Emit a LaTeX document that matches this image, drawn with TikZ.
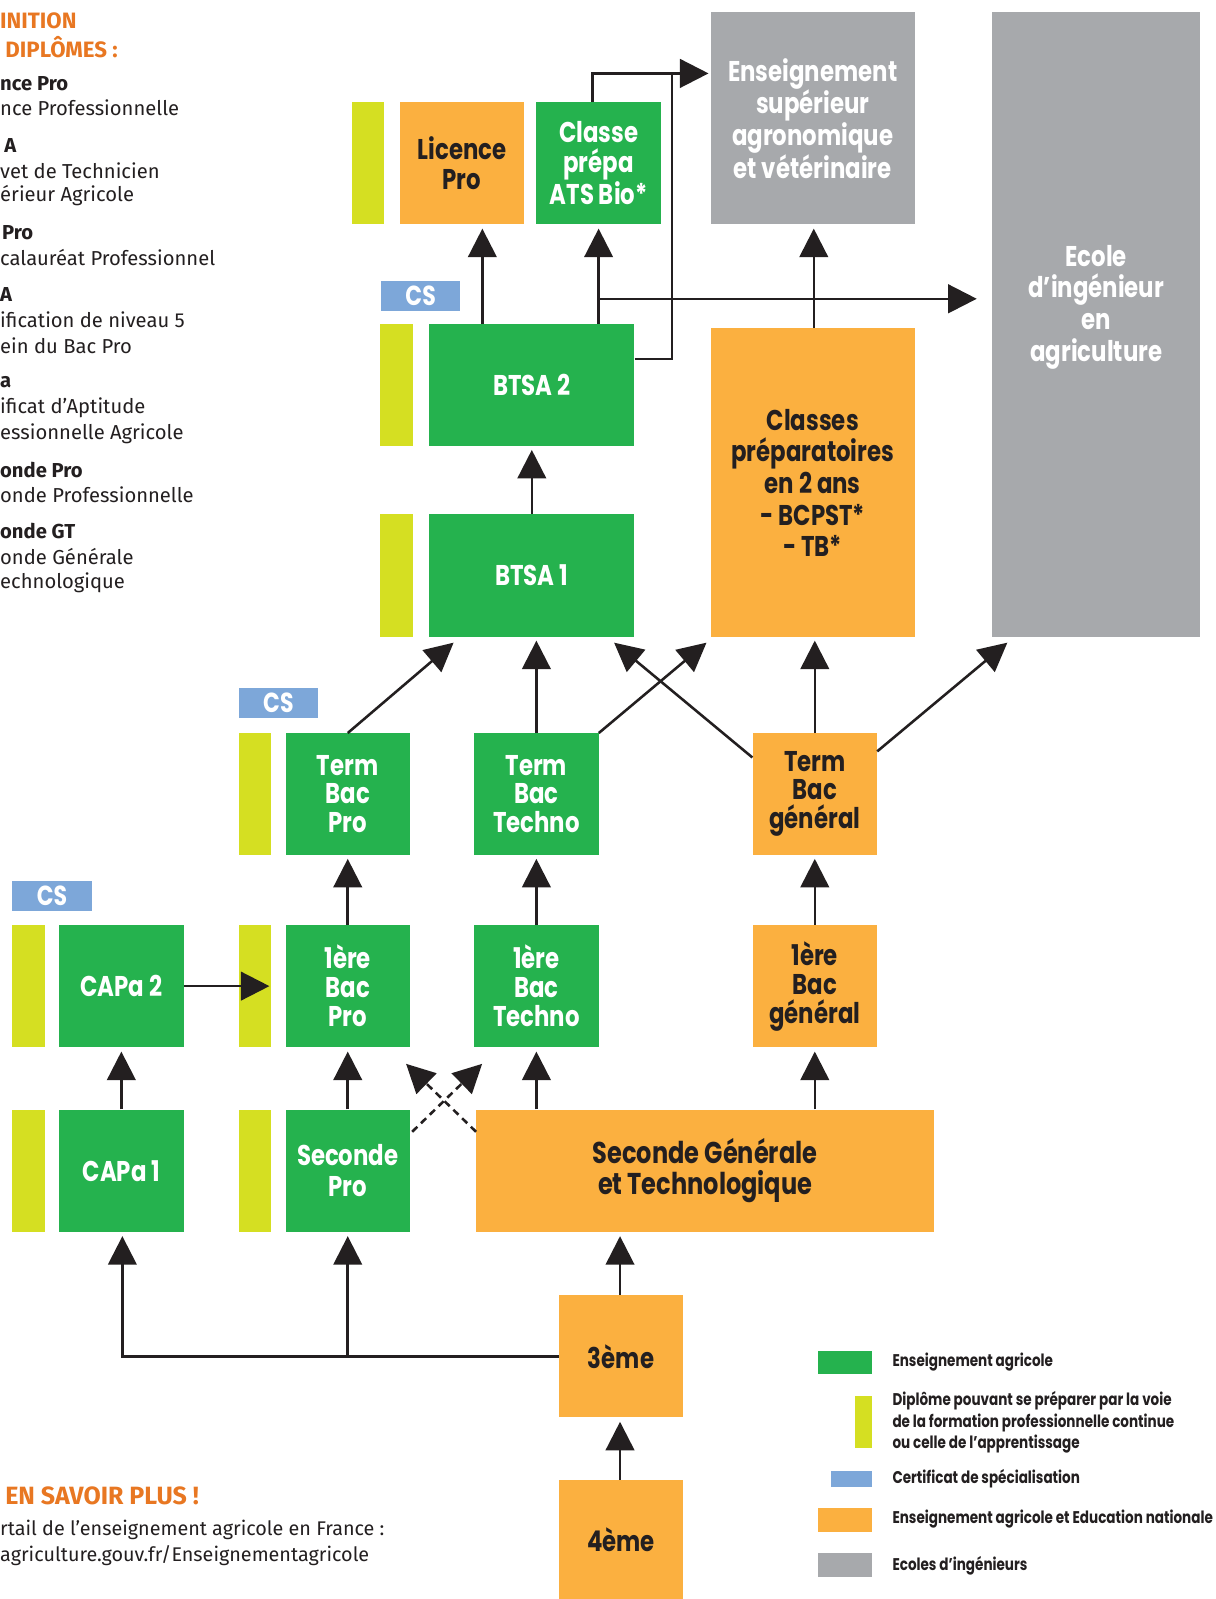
\documentclass[tikz,border=0pt]{standalone}
\usepackage{fontspec}
\setmainfont{Fira Sans}
\newfontfamily\bx[FakeStretch=0.8]{Poppins}
\usetikzlibrary{arrows.meta,calc}
\definecolor{gr}{HTML}{25B24E}
\definecolor{orb}{HTML}{FBB040}
\definecolor{yl}{HTML}{D5DF22}
\definecolor{gy}{HTML}{A7A9AC}
\definecolor{bl}{HTML}{7DA7D9}
\definecolor{ot}{HTML}{E87722}
\definecolor{ink}{HTML}{231F20}
\begin{document}
\begin{tikzpicture}[x=1pt,y=-1pt,
  bxf/.style={font=\bx\bfseries\fontsize{28}{#1}\selectfont},
  box/.style={inner sep=0pt, align=center, bxf=30},
  gbox/.style={box, fill=gr, text=white},
  obox/.style={box, fill=orb, text=ink},
  ybox/.style={box, fill=gy, text=white},
  ybar/.style={inner sep=0pt, fill=yl, minimum width=32pt},
  csbox/.style={inner sep=0pt, fill=bl, text=white, minimum width=78pt, minimum height=29pt, font=\bx\bfseries\fontsize{27}{28}\selectfont},
  rowA/.style={minimum height=119pt},
  narrow/.style={minimum width=122pt},
  arr/.style={draw=ink, line width=2.5pt, -{Triangle[length=28pt,width=28pt]}},
  darr/.style={arr, dash pattern=on 7pt off 5pt},
  ln/.style={draw=ink, line width=2.5pt},
  dtxt/.style={anchor=west, inner sep=0pt, text=ink, font=\fontsize{19.8}{22}\selectfont},
  dhead/.style={anchor=west, inner sep=0pt, text=ink, font=\bfseries\fontsize{19.8}{22}\selectfont},
  ohead/.style={anchor=west, inner sep=0pt, text=ot, font=\bfseries\fontsize{21.8}{24}\selectfont},
  lgtxt/.style={anchor=west, inner sep=0pt, text=ink, align=left, font=\bx\bfseries\fontsize{16.6}{21}\selectfont},
  sw/.style={inner sep=0pt, anchor=north west}
]
\useasboundingbox[fill=white] (0,0) rectangle (1192,1568);

% ---- left column (cropped texts)
\node[ohead] (h1) at (0,20) {INITION};
\node[ohead] (h2) at (0,46) {\ DIPLÔMES :};
\node[dhead] (t1) at (0,82) {nce Pro};
\node[dtxt] (t2) at (0,106) {nce Professionnelle};
\node[dhead] (t3) at (4,143) {A};
\node[dtxt] (t4) at (0,167) {vet de Technicien};
\node[dtxt] (t5) at (0,192) {érieur Agricole};
\node[dhead] (t6) at (2,228) {Pro};
\node[dtxt] (t7) at (0,253) {calauréat Professionnel};
\node[dhead] (t8) at (0,289) {A};
\node[dtxt] (t9) at (0,314) {ification de niveau 5};
\node[dtxt] (t10) at (0,339) {ein du Bac Pro};
\node[dhead] (t11) at (0,375) {a};
\node[dtxt] (t12) at (0,400) {ificat d’Aptitude};
\node[dtxt] (t13) at (0,425) {essionnelle Agricole};
\node[dhead] (t14) at (0,461) {onde Pro};
\node[dtxt] (t15) at (0,485) {onde Professionnelle};
\node[dhead] (t16) at (0,521) {onde GT};
\node[dtxt] (t17) at (0,546) {onde Générale};
\node[dtxt] (t18) at (0,571) {echnologique};
\node[ohead, font=\bfseries\fontsize{24.5}{26}\selectfont] (s1) at (5,1467) {EN SAVOIR PLUS !};
\node[dtxt, font=\fontsize{19.4}{22}\selectfont] (s2) at (0,1500) {rtail de l’enseignement agricole en France :};
\node[dtxt, font=\fontsize{19.4}{22}\selectfont] (s3) at (0,1525) {agriculture.gouv.fr/Enseignementagricole};

% ---- top row
\node[ybar, minimum height=120pt] (barLP) at (361,160) {};
\node[obox, narrow, minimum height=120pt] (licence) at (453,160) {Licence\\Pro};
\node[gbox, narrow, minimum height=120pt, bxf=29.5] (classe) at (587,160) {Classe\\prépa\\ATS Bio*};
\node[ybox, minimum width=200pt, minimum height=208pt, bxf=31] (ens) at (797,116) {Enseignement\\supérieur\\agronomique\\et vétérinaire};
\node[fill=gy, inner sep=0pt, minimum width=204pt, minimum height=613pt] (ecole) at (1075,318.5) {};
\node[box, text=white, bxf=31] (ecolet) at (1075,301) {Ecole\\d’ingénieur\\en\\agriculture};

% ---- BTSA
\node[csbox] (cs1) at (412.5,290.5) {CS};
\node[ybar, minimum height=119pt] (barB2) at (389,377.5) {};
\node[gbox, minimum width=201pt, minimum height=119pt] (btsa2) at (521.5,377.5) {BTSA 2};
\node[obox, minimum width=200pt, minimum height=303pt, bxf=31, text depth=0pt] (cp) at (797,473.5) {Classes\\préparatoires\\en 2 ans\\- BCPST*\\- TB*};
\node[ybar, minimum height=121pt] (barB1) at (389,564.5) {};
\node[gbox, minimum width=201pt, minimum height=121pt] (btsa1) at (521.5,564.5) {BTSA 1};

% ---- Term row
\node[csbox] (cs2) at (273,689.5) {CS};
\node[ybar, rowA] (barTP) at (250,778.5) {};
\node[gbox, narrow, rowA, bxf=28] (termpro) at (341,778.5) {Term\\Bac\\Pro};
\node[gbox, narrow, rowA, bxf=28] (termtech) at (526,778.5) {Term\\Bac\\Techno};
\node[obox, narrow, rowA, bxf=28] (termgen) at (799,778.5) {Term\\Bac\\général};

% ---- 1ere row
\node[csbox] (cs3) at (51,878.5) {CS};
\node[ybar, minimum height=120pt] (barC2) at (28,967) {};
\node[gbox, narrow, minimum height=120pt] (capa2) at (119,967) {CAPa 2};
\node[ybar, minimum height=120pt] (barP1) at (250,967) {};
\node[gbox, narrow, minimum height=120pt, bxf=28.5] (prempro) at (341,967) {1ère\\Bac\\Pro};
\node[gbox, narrow, minimum height=120pt, bxf=28.5] (premtech) at (526,967) {1ère\\Bac\\Techno};
\node[obox, narrow, minimum height=120pt, bxf=28.5] (premgen) at (799,967) {1ère\\Bac\\général};

% ---- seconde row
\node[ybar, minimum height=120pt] (barC1) at (28,1148) {};
\node[gbox, narrow, minimum height=120pt] (capa1) at (119,1148) {CAPa 1};
\node[ybar, minimum height=120pt] (barSP) at (250,1148) {};
\node[gbox, narrow, minimum height=120pt, bxf=31] (secpro) at (341,1148) {Seconde\\Pro};
\node[obox, minimum width=449pt, minimum height=120pt, font=\bx\bfseries\fontsize{29.5}{31}\selectfont] (secgt) at (691.5,1148) {Seconde Générale\\et Technologique};

% ---- college
\node[obox, narrow, minimum height=120pt] (troisieme) at (609,1330) {3ème};
\node[obox, narrow, minimum height=117pt] (quatrieme) at (609,1509.5) {4ème};

% ---- connectors
\draw[arr, shorten >=4pt] ([xshift=20pt]licence.south |- btsa2.north) -- ([xshift=20pt]licence.south);
\draw[arr, shorten >=4pt] (classe.south |- btsa2.north) -- (classe.south);
\coordinate (j1) at (587,293);
\draw[arr, shorten >=15pt] (j1) -- (ecole.west |- j1);
\coordinate (top1) at (581,72);
\draw[arr, shorten >=2pt] ([xshift=-6pt]classe.north) |- (ens.west |- top1);
\coordinate (top2) at (659,72);
\draw[ln] ([yshift=25.5pt]btsa2.east) -| (top2);
\draw[arr, shorten >=4pt] ([xshift=1pt]ens.south |- cp.north) -- ([xshift=1pt]ens.south);
\draw[arr, shorten >=4pt] (btsa1.north) -- (btsa2.south);

\draw[arr] (termpro.north) -- ([xshift=24pt,yshift=-5pt]btsa1.south west);
\draw[arr, shorten >=3pt] (termtech.north) -- (termtech.north |- btsa1.south);
\draw[arr] (termtech.north east) -- ([xshift=-4pt,yshift=-5pt]cp.south west);
\draw[arr] ([yshift=-24pt]termgen.north west) -- ([xshift=-20pt,yshift=-5pt]btsa1.south east);
\draw[arr, shorten >=3pt] (termgen.north) -- (termgen.north |- cp.south);
\draw[arr] ([yshift=-18pt]termgen.north east) -- ([xshift=15pt,yshift=-5pt]ecole.south west);

\draw[arr, shorten >=4pt] (prempro.north) -- (termpro.south);
\draw[arr, shorten >=4pt] (premtech.north) -- (termtech.south);
\draw[arr, shorten >=4pt] (premgen.north) -- (termgen.south);
\draw[arr] (capa2.east) -- ([xshift=-2pt]barP1.east);

\draw[arr, shorten >=4pt] (capa1.north) -- (capa2.south);
\draw[arr, shorten >=4pt] (secpro.north) -- (prempro.south);
\draw[arr, shorten >=4pt] (premtech.south |- secgt.north) -- (premtech.south);
\draw[arr, shorten >=4pt] (premgen.south |- secgt.north) -- (premgen.south);
\draw[darr] ([xshift=2pt,yshift=-22pt]secpro.north east) -- ([xshift=8pt,yshift=-16pt]premtech.south west);
\draw[darr] ([yshift=-22pt]secgt.north west) -- ([xshift=-4pt,yshift=-16pt]prempro.south east);

\draw[arr, shorten >=4pt] ([xshift=-1pt]troisieme.north) -- ([xshift=-1pt]troisieme.north |- secgt.south);
\draw[arr, shorten >=4pt] (troisieme.west) -| ([xshift=1pt]capa1.south);
\draw[arr, shorten >=4pt] (troisieme.west -| secpro.south) -- (secpro.south);
\draw[arr, shorten >=4pt] ([xshift=-1pt]quatrieme.north) -- ([xshift=-1pt]troisieme.south);

% ---- legend
\node[sw, fill=gr, minimum width=53pt, minimum height=22pt] (lg1) at (802,1325) {};
\node[lgtxt] (lt1) at (875,1336) {Enseignement agricole};
\node[sw, fill=yl, minimum width=17pt, minimum height=51pt] (lg2) at (838,1369) {};
\node[lgtxt] (lt2) at (875,1395) {Diplôme pouvant se préparer par la voie\\de la formation professionnelle continue\\ou celle de l’apprentissage};
\node[sw, fill=bl, minimum width=40pt, minimum height=16pt] (lg3) at (815,1442) {};
\node[lgtxt] (lt3) at (875,1450) {Certificat de spécialisation};
\node[sw, fill=orb, minimum width=53pt, minimum height=23pt] (lg4) at (802,1479) {};
\node[lgtxt] (lt4) at (875,1490) {Enseignement agricole et Education nationale};
\node[sw, fill=gy, minimum width=53pt, minimum height=23pt] (lg5) at (802,1523) {};
\node[lgtxt] (lt5) at (875,1535) {Ecoles d’ingénieurs};
\end{tikzpicture}
\end{document}
